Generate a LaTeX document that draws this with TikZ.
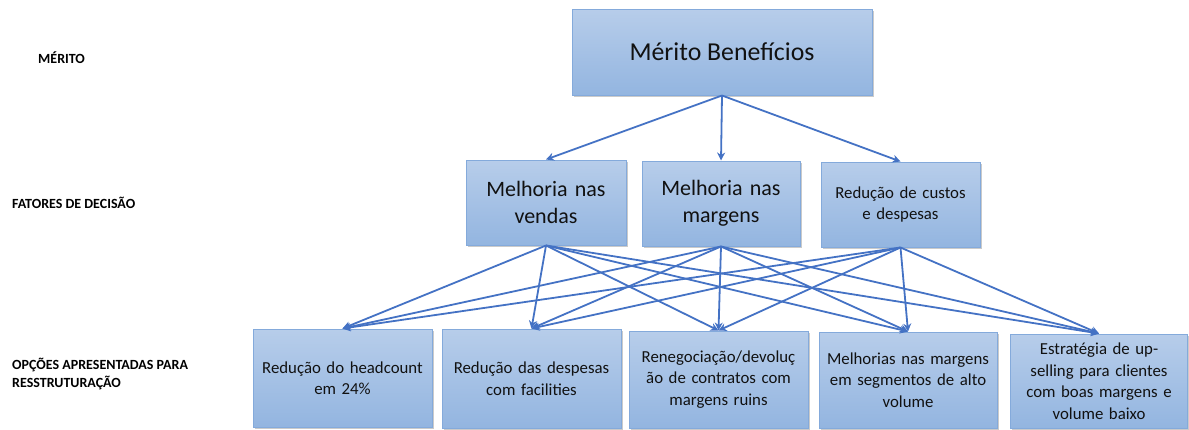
\documentclass[tikz,border=0pt]{standalone}
\usepackage{fontspec}
\setmainfont{Carlito}
\usetikzlibrary{arrows.meta,shadows}
\definecolor{boxtop}{HTML}{B7CDEA}
\definecolor{boxbot}{HTML}{93B5E0}
\definecolor{boxline}{HTML}{84AADB}
\definecolor{arr}{HTML}{4472C4}
\definecolor{txt}{HTML}{111111}
\tikzset{
  box/.style={draw=boxline, line width=1pt, top color=boxtop, bottom color=boxbot,
    drop shadow={shadow xshift=1.5pt, shadow yshift=-1.5pt, opacity=0.35, fill=black!60},
    align=center, inner sep=2pt, text=txt},
  big/.style={font=\fontsize{25.8}{30}\selectfont},
  mid/.style={font=\fontsize{22}{27}\selectfont},
  small/.style={font=\fontsize{16.8}{21.5}\selectfont},
  lvl/.style={anchor=west, align=left, font=\bfseries\fontsize{14}{18}\selectfont, inner sep=0pt},
  con/.style={draw=arr, line width=1.8pt, -{Stealth[length=8pt,width=8pt]}},
}
\begin{document}
\begin{tikzpicture}[x=1pt,y=-1pt]
\useasboundingbox (0,0) rectangle (1189,429);
\node[box, big, minimum width=300pt, minimum height=86pt] (top) at (722,52) {Mérito Benefícios};
\node[box, mid, minimum width=160pt, minimum height=85pt, text width=155pt] (m1) at (546,202.5) {Melhoria nas\\vendas};
\node[box, mid, minimum width=158pt, minimum height=85pt, text width=153pt] (m2) at (721,203.5) {Melhoria nas\\margens};
\node[box, small, minimum width=159pt, minimum height=85pt, text width=154pt] (m3) at (900.5,204.5) {Redução de custos\\e despesas};
\node[box, small, minimum width=179pt, minimum height=98pt, text width=174pt] (b1) at (342.5,378) {Redução do headcount\\em 24\%};
\node[box, small, minimum width=179pt, minimum height=99pt, text width=174pt] (b2) at (531.5,378.5) {Redução das despesas\\com facilities};
\node[box, small, minimum width=179pt, minimum height=97pt, text width=174pt] (b3) at (718.5,379.5) {Renegociação/devoluç\\ão de contratos com\\margens ruins};
\node[box, small, minimum width=178pt, minimum height=96pt, text width=173pt] (b4) at (908,380) {Melhorias nas margens\\em segmentos de alto\\volume};
\node[box, small, minimum width=177pt, minimum height=94pt, text width=172pt] (b5) at (1099,381) {Estratégia de up-\\selling para clientes\\com boas margens e\\volume baixo};
\node[lvl] (l1) at (38,58) {MÉRITO};
\node[lvl] (l2) at (12,203) {FATORES DE DECISÃO};
\node[lvl] (l3) at (12,374) {OPÇÕES APRESENTADAS PARA\\RESSTRUTURAÇÃO};
\foreach \m in {m1,m2,m3} \draw[con] (top.south) -- (\m.north);
\foreach \m in {m1,m2,m3} \foreach \b in {b1,b2,b3,b4,b5} \draw[con] (\m.south) -- (\b.north);
\end{tikzpicture}
\end{document}
